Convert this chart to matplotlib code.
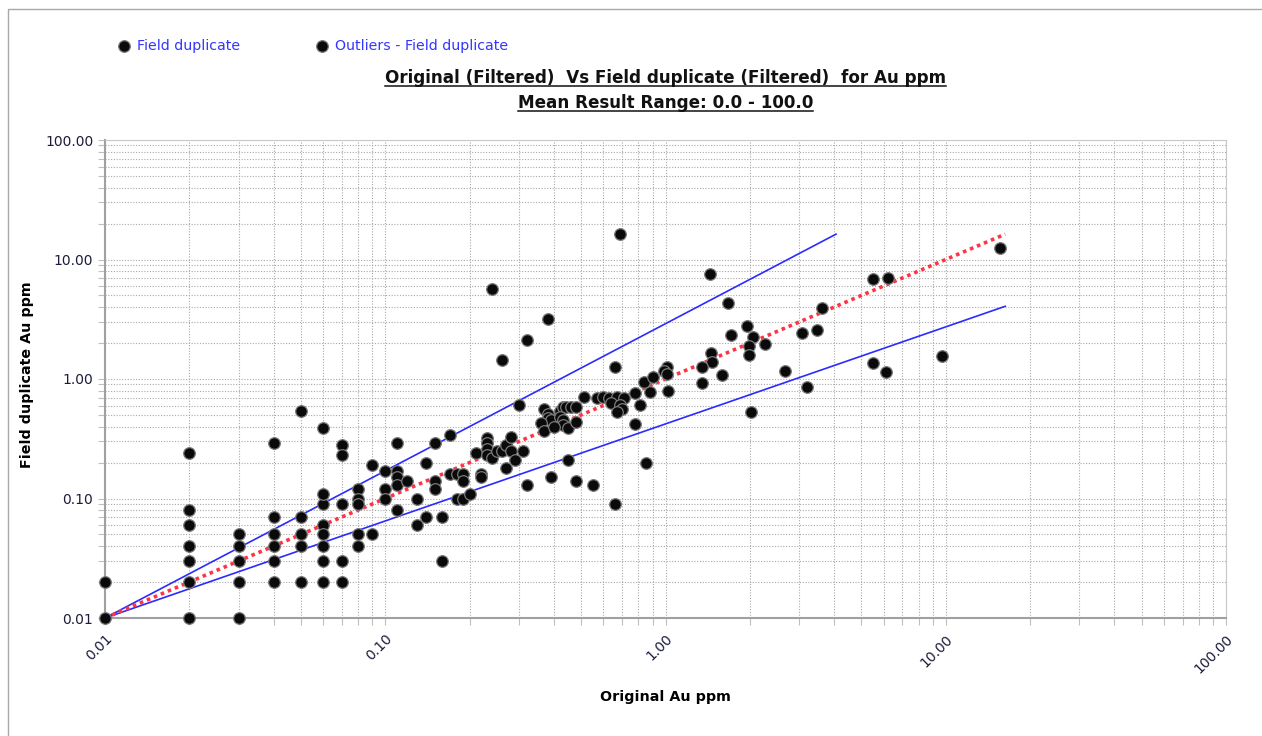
import numpy as np
import matplotlib.pyplot as plt
from matplotlib.ticker import LogLocator, FormatStrFormatter, NullFormatter
from matplotlib.patches import Rectangle
from matplotlib.lines import Line2D

plt.rcParams['font.family'] = ['DejaVu Sans']

# ---- data (Au ppm) ----
# low range, values quantised to 0.01
orig_low = [0.01, 0.01,
            0.02, 0.02, 0.02, 0.02, 0.02, 0.02, 0.02,
            0.03, 0.03, 0.03, 0.03, 0.03,
            0.04, 0.04, 0.04, 0.04, 0.04, 0.04,
            0.05, 0.05, 0.05, 0.05, 0.05,
            0.06, 0.06, 0.06, 0.06, 0.06, 0.06, 0.06, 0.06,
            0.07, 0.07, 0.07, 0.07, 0.07,
            0.08, 0.08, 0.08, 0.08, 0.08,
            0.09, 0.09,
            0.10, 0.10, 0.10,
            0.11, 0.11, 0.11, 0.11, 0.11,
            0.12,
            0.13, 0.13,
            0.14, 0.14,
            0.15, 0.15, 0.15,
            0.16, 0.16,
            0.17, 0.17,
            0.18, 0.18,
            0.19, 0.19, 0.19,
            0.20, 0.21, 0.22, 0.22]
dup_low = [0.01, 0.02,
           0.24, 0.08, 0.06, 0.04, 0.03, 0.02, 0.01,
           0.05, 0.04, 0.03, 0.02, 0.01,
           0.29, 0.07, 0.05, 0.04, 0.03, 0.02,
           0.54, 0.07, 0.05, 0.04, 0.02,
           0.39, 0.11, 0.09, 0.06, 0.05, 0.04, 0.03, 0.02,
           0.28, 0.23, 0.09, 0.03, 0.02,
           0.12, 0.10, 0.09, 0.05, 0.04,
           0.19, 0.05,
           0.17, 0.12, 0.10,
           0.29, 0.17, 0.15, 0.13, 0.08,
           0.14,
           0.10, 0.06,
           0.20, 0.07,
           0.29, 0.14, 0.12,
           0.07, 0.03,
           0.34, 0.16,
           0.16, 0.10,
           0.16, 0.14, 0.10,
           0.11, 0.24, 0.16, 0.15]

# mid range
orig_mid = [0.23, 0.23, 0.23, 0.23, 0.24, 0.25, 0.26, 0.27, 0.28, 0.28, 0.29, 0.27, 0.31,
            0.30, 0.32, 0.39, 0.45, 0.48, 0.55,
            0.37, 0.38, 0.38, 0.39, 0.42, 0.43, 0.44, 0.46, 0.48, 0.42, 0.43, 0.43, 0.45,
            0.48, 0.36, 0.37, 0.40,
            0.51, 0.57, 0.60, 0.63, 0.67, 0.71,
            0.64, 0.69, 0.70, 0.67, 0.78, 0.81, 0.88, 0.84, 0.90, 1.01, 0.99, 1.01, 1.02,
            0.66, 0.78, 0.85, 0.66,
            0.69, 0.24, 0.38, 0.32, 0.26]
dup_mid = [0.32, 0.29, 0.26, 0.23, 0.22, 0.25, 0.25, 0.28, 0.33, 0.25, 0.21, 0.18, 0.25,
           0.61, 0.13, 0.15, 0.21, 0.14, 0.13,
           0.56, 0.51, 0.47, 0.45, 0.54, 0.58, 0.58, 0.58, 0.58, 0.48, 0.45, 0.41, 0.39,
           0.44, 0.43, 0.37, 0.40,
           0.71, 0.70, 0.71, 0.69, 0.71, 0.69,
           0.63, 0.61, 0.56, 0.53, 0.76, 0.61, 0.78, 0.95, 1.03, 1.27, 1.17, 1.11, 0.79,
           1.25, 0.42, 0.20, 0.09,
           16.3, 5.67, 3.18, 2.12, 1.44]

# high range
orig_high = [1.44, 1.67, 1.95, 1.71, 2.06, 1.98, 2.26, 1.45, 1.46, 1.35, 1.35, 1.59, 1.98,
             2.02, 2.66, 3.06, 3.48, 3.61, 3.21, 5.48, 6.21, 5.48, 6.12, 9.66, 15.6]
dup_high = [7.50, 4.35, 2.78, 2.33, 2.23, 1.89, 1.96, 1.64, 1.40, 1.25, 0.93, 1.08, 1.59,
            0.53, 1.17, 2.41, 2.57, 3.91, 0.85, 6.82, 7.04, 1.37, 1.14, 1.56, 12.4]

# reference lines: 1:1 line and the acceptance envelope
line_start = 0.01
line_max = 16.3
env_other = 4.06

original = np.array(orig_low + orig_mid + orig_high)
duplicate = np.array(dup_low + dup_mid + dup_high)

# points outside the envelope are the outliers
k = np.log(line_max / line_start) / np.log(env_other / line_start)
lx = np.log10(original / line_start)
ly = np.log10(duplicate / line_start)
out = (ly > k * lx + 1e-9) | (ly < lx / k - 1e-9)

fig = plt.figure(figsize=(12.62, 7.36), dpi=100)
ax = fig.add_axes([105 / 1262, 1 - 618 / 736, (1226 - 105) / 1262, (618 - 140) / 736])

ax.set_xscale('log')
ax.set_yscale('log')
ax.set_xlim(0.01, 100)
ax.set_ylim(0.01, 100)

# envelope and 1:1 line
ax.plot([line_start, env_other], [line_start, line_max], color='#2b2bff', lw=1.2, zorder=3)
ax.plot([line_start, line_max], [line_start, env_other], color='#2b2bff', lw=1.2, zorder=3)
ax.plot([line_start, line_max], [line_start, line_max], color='#ff3344', lw=2.6,
        linestyle=(0, (1, 1.1)), zorder=3)

mk = dict(s=70, c='#0a0a0a', edgecolors='#7a7a7a', linewidths=0.9, zorder=4, clip_on=False)
sc1 = ax.scatter(original[~out], duplicate[~out], **mk)
sc2 = ax.scatter(original[out], duplicate[out], **mk)

# grid
for axis in (ax.xaxis, ax.yaxis):
    axis.set_major_locator(LogLocator(base=10, numticks=10))
    axis.set_minor_locator(LogLocator(base=10, subs=np.arange(2, 10), numticks=10))
    axis.set_major_formatter(FormatStrFormatter('%.2f'))
    axis.set_minor_formatter(NullFormatter())
ax.grid(True, which='both', color='#a8a8a8', lw=0.8, linestyle=(0, (1, 1.5)))
ax.set_axisbelow(True)
ax.tick_params(which='both', length=5, width=0.8, color='#c0c0c0', direction='out')
ax.tick_params(axis='both', labelsize=10, labelcolor='#1c1c3c')
ax.tick_params(axis='x', pad=5)
plt.setp(ax.get_xticklabels(), rotation=45, ha='right', va='top', rotation_mode='anchor')

for side in ['top', 'right']:
    ax.spines[side].set_color('#c8c8c8')
for side in ['left', 'bottom']:
    ax.spines[side].set_color('#a0a0a0')
    ax.spines[side].set_linewidth(1.5)

fig.text(27 / 1262, 1 - 375 / 736, 'Field duplicate Au ppm', rotation=90, fontsize=10.3,
         fontweight='bold', ha='center', va='center')
fig.text(665 / 1262, 1 - 697 / 736, 'Original Au ppm', fontsize=10.3, fontweight='bold',
         ha='center', va='center')

t1 = fig.text(665.5 / 1262, 1 - 78 / 736,
              'Original (Filtered)  Vs Field duplicate (Filtered)  for Au ppm',
              fontsize=12.1, fontweight='bold', ha='center', va='center', color='#111111')
t2 = fig.text(665.5 / 1262, 1 - 103 / 736, 'Mean Result Range: 0.0 - 100.0',
              fontsize=12.1, fontweight='bold', ha='center', va='center', color='#111111')

fig.legend([sc1, sc2], ['Field duplicate', 'Outliers - Field duplicate'],
           loc='center left', bbox_to_anchor=(117 / 1262, 1 - 46 / 736), ncol=2,
           frameon=False, fontsize=10.2, labelcolor='#3535ff', handlelength=1.0,
           handletextpad=0.41, columnspacing=5.3, borderpad=0, borderaxespad=0)

# outer border
fig.add_artist(Rectangle((8 / 1262, -0.05), 1.2, 1 - 9 / 736 + 0.05, transform=fig.transFigure,
                         fill=False, edgecolor='#a8a8a8', lw=1))

# underline the two title lines
fig.canvas.draw()
r = fig.canvas.get_renderer()
for t in (t1, t2):
    bb = t.get_window_extent(r).transformed(fig.transFigure.inverted())
    fig.add_artist(Line2D([bb.x0, bb.x1], [bb.y0 + 1 / 736, bb.y0 + 1 / 736],
                          transform=fig.transFigure, color='#111111', lw=1.1))

fig.savefig('out.png', dpi=100)
